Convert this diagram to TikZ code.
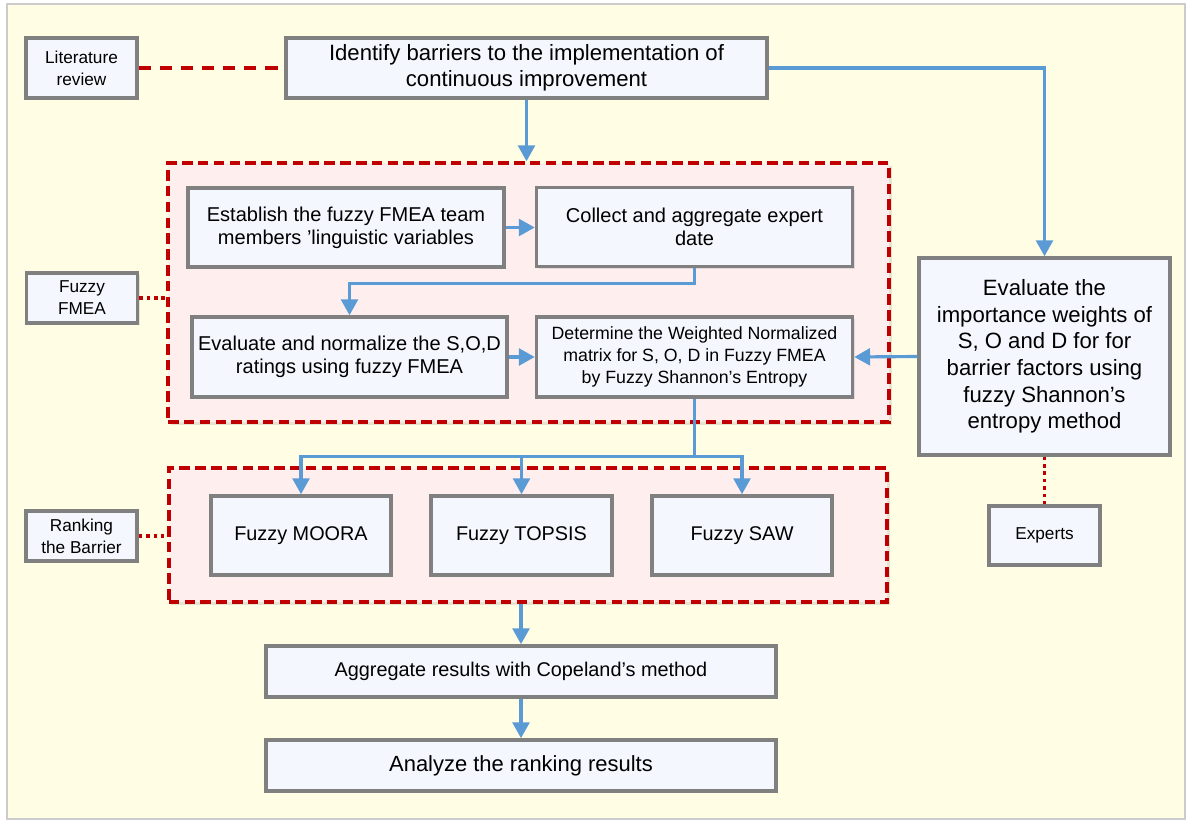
\documentclass[tikz,border=0pt]{standalone}
\usepackage{fontspec}
\setmainfont{Liberation Sans}
\usetikzlibrary{arrows.meta}
\usetikzlibrary{shadows}

\definecolor{pagebg}{HTML}{FFFEE4}
\definecolor{pageline}{HTML}{CCCCCC}
\definecolor{boxfill}{HTML}{F4F7FD}
\definecolor{boxline}{HTML}{808080}
\definecolor{regionfill}{HTML}{FFEEEE}
\definecolor{regionline}{HTML}{C00000}
\definecolor{flowblue}{HTML}{5B9BD5}

\begin{document}
\begin{tikzpicture}[
        x = 0.02cm, y = -0.02cm,
        procbox/.style = {draw=boxline, line width=2pt, fill=boxfill, align=center, inner sep=2pt,
            drop shadow={shadow xshift=1.2pt, shadow yshift=-1.2pt, opacity=0.2}},
        sidebox/.style = {procbox, minimum width=2.22cm, font=\fontsize{9.8}{12.5}\selectfont},
        region/.style = {draw=regionline, fill=regionfill, line width=2pt, dash pattern=on 6pt off 3pt,
            drop shadow={shadow xshift=1.5pt, shadow yshift=-1.5pt, opacity=0.2}},
        flow/.style = {draw=flowblue, line width=1.8pt, -{Triangle[length=9pt,width=9.5pt]}},
        dashlink/.style = {draw=regionline, line width=2pt, dash pattern=on 7pt off 5pt},
        dotlink/.style = {draw=regionline, line width=1.8pt, dash pattern=on 2pt off 2.2pt},
        ]

        \useasboundingbox (0,0) rectangle (1186,820);

        % Page
        \draw[draw=pageline, line width=1.2pt, fill=pagebg] (7,4) rectangle (1185,819);

        % Dashed regions
        \node[region, minimum width=14.42cm, minimum height=5.18cm] (fmea) at (528.5,292.5) {};
        \node[region, minimum width=14.37cm, minimum height=2.68cm] (rank) at (528,535) {};

        % Side labels
        \node[sidebox, minimum height=1.2cm] (lit) at (81.5,68) {Literature\\review};
        \node[sidebox, minimum height=1.0cm] (fmealabel) at (82,298) {Fuzzy\\FMEA};
        \node[sidebox, minimum height=1.0cm] (ranklabel) at (81.5,536) {Ranking\\the Barrier};
        \node[sidebox, minimum height=1.18cm] (experts) at (1044.5,535.5) {Experts};

        % Top
        \node[procbox, minimum width=9.62cm, minimum height=1.2cm, font=\fontsize{12.6}{14.6}\selectfont]
            (identify) at (526.5,68) {Identify barriers to the implementation of\\continuous improvement};
        \node[procbox, minimum width=5.02cm, minimum height=3.94cm, font=\fontsize{12.6}{15.2}\selectfont]
            (weights) at (1044.5,356.5) {Evaluate the\\importance weights of\\S, O and D for for\\barrier factors using\\fuzzy Shannon's\\entropy method};

        % Fuzzy FMEA
        \node[procbox, minimum width=6.32cm, minimum height=1.58cm, font=\fontsize{11.4}{13.2}\selectfont]
            (establish) at (346,227.5) {Establish the fuzzy FMEA team\\members ’linguistic variables};
        \node[procbox, minimum width=6.32cm, minimum height=1.58cm, font=\fontsize{11.4}{13.2}\selectfont]
            (collect) at (694.5,227) {Collect and aggregate expert\\date};
        \node[procbox, minimum width=6.3cm, minimum height=1.6cm, font=\fontsize{11.4}{13.2}\selectfont]
            (normalize) at (349.5,357) {Evaluate and normalize the S,O,D\\ratings using fuzzy FMEA};
        \node[procbox, minimum width=6.32cm, minimum height=1.6cm, font=\fontsize{10.1}{12.4}\selectfont]
            (determine) at (694.5,357) {Determine the Weighted Normalized\\matrix for S, O, D in Fuzzy FMEA\\by Fuzzy Shannon’s Entropy};

        % Ranking
        \node[procbox, minimum width=3.6cm, minimum height=1.58cm, font=\fontsize{11.3}{13}\selectfont]
            (moora) at (301,535.5) {Fuzzy MOORA};
        \node[procbox, minimum width=3.62cm, minimum height=1.58cm, font=\fontsize{11.3}{13}\selectfont]
            (topsis) at (521.5,535.5) {Fuzzy TOPSIS};
        \node[procbox, minimum width=3.6cm, minimum height=1.58cm, font=\fontsize{11.3}{13}\selectfont]
            (saw) at (742,535.5) {Fuzzy SAW};

        % Bottom
        \node[procbox, minimum width=10.2cm, minimum height=1.02cm, font=\fontsize{11.3}{13}\selectfont]
            (aggregate) at (521,671.5) {Aggregate results with Copeland’s method};
        \node[procbox, minimum width=10.2cm, minimum height=1.02cm, font=\fontsize{12.5}{15}\selectfont]
            (analyze) at (521,765.5) {Analyze the ranking results};

        % Red links
        \draw[dashlink] (lit.east) -- (identify.west);
        \draw[dotlink] (fmealabel.east) -- (fmealabel.east -| fmea.west);
        \draw[dotlink] (ranklabel.east) -- (ranklabel.east -| rank.west);
        \draw[dotlink] (weights.south) -- (experts.north);

        % Blue arrows
        \draw[flow] (identify.south) -- (identify.south |- fmea.north);
        \draw[flow] (identify.east) -| (weights.north);
        \draw[flow] (establish.east) -- (establish.east -| collect.west);
        \draw[flow] (collect.south) -- ++(0,15) -| (normalize.north);
        \draw[flow] (normalize.east) -- (determine.west);
        \draw[flow] (weights.west) -- (determine.east);
        \draw[flow] (determine.south) -- ++(0,58) -| (moora.north);
        \draw[flow] (determine.south) -- ++(0,58) -| (topsis.north);
        \draw[flow] (determine.south) -- ++(0,58) -| (saw.north);
        \draw[flow] (aggregate.north |- rank.south) -- (aggregate.north);
        \draw[flow] (aggregate.south) -- (analyze.north);
    \end{tikzpicture}
\end{document}
